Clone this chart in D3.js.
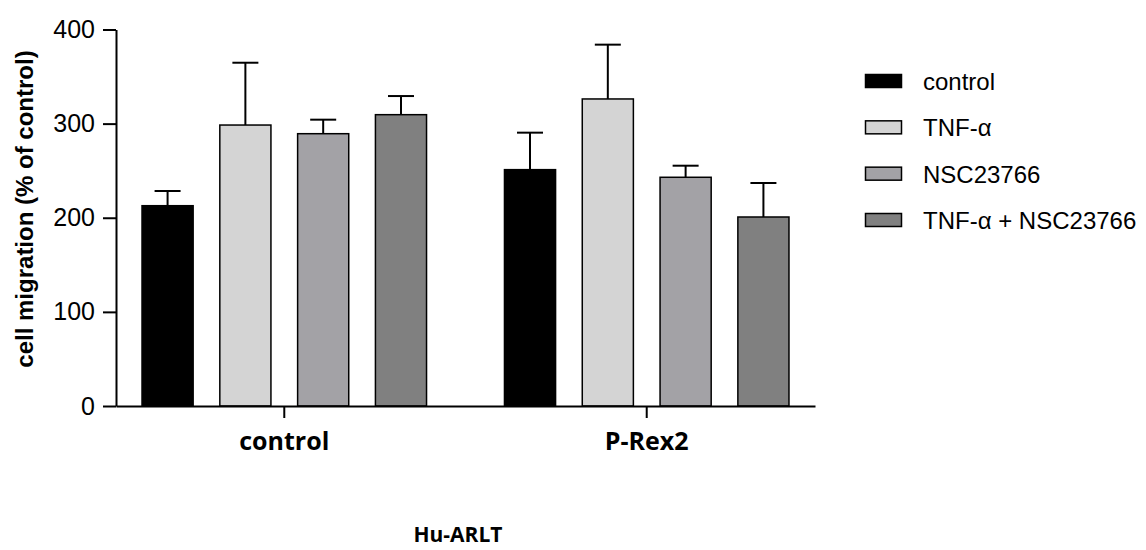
<!DOCTYPE html>
<html><head><meta charset="utf-8">
<script src="https://cdn.jsdelivr.net/npm/d3@7"></script>
<style>body{margin:0;background:#fff}svg{display:block}</style>
</head><body>
<svg id="chart" width="1146" height="550"></svg>
<script>
const groups = ["control", "P-Rex2"];
const seriesNames = ["control", "TNF-α", "NSC23766", "TNF-α + NSC23766"];
const seriesColors = ["#000000", "#d4d4d4", "#a3a2a6", "#808080"];
const meanControl = [212.8, 298.5, 289.3, 309.5];
const meanPRex2 = [251.1, 326.2, 243.0, 200.8];
const errControl = [15.6, 66.2, 14.9, 19.8];
const errPRex2 = [39.3, 57.7, 12.3, 36.1];
const yTicks = [0, 100, 200, 300, 400];
const yLabel = "cell migration (% of control)";
const xTitle = "Hu-ARLT";

const means = [meanControl, meanPRex2];
const errs = [errControl, errPRex2];

const svg = d3.select("#chart");
const y = d3.scaleLinear().domain([0, 400]).range([406, 29.5]);
const x0 = d3.scaleBand().domain(groups).range([116, 815]).paddingInner(0.215).paddingOuter(0.0718);
const x1 = d3.scaleBand().domain(seriesNames).range([0, x0.bandwidth()]).paddingInner(0.343).paddingOuter(0);
const color = d3.scaleOrdinal().domain(seriesNames).range(seriesColors);

// bars
groups.forEach((g, gi) => {
  const gg = svg.append("g").attr("transform", `translate(${x0(g)},0)`);
  seriesNames.forEach((s, si) => {
    const v = means[gi][si], e = errs[gi][si];
    const cx = x1(s) + x1.bandwidth() / 2;
    gg.append("line").attr("x1", cx).attr("x2", cx).attr("y1", y(v)).attr("y2", y(v + e))
      .attr("stroke", "#000").attr("stroke-width", 2);
    gg.append("line").attr("x1", cx - 13).attr("x2", cx + 13).attr("y1", y(v + e)).attr("y2", y(v + e))
      .attr("stroke", "#000").attr("stroke-width", 2);
    gg.append("rect").attr("x", x1(s)).attr("y", y(v)).attr("width", x1.bandwidth()).attr("height", y(0) - y(v))
      .attr("fill", color(s)).attr("stroke", "#000").attr("stroke-width", 1.5);
  });
});

// y axis
const yAxis = svg.append("g").attr("transform", "translate(116,0)")
  .call(d3.axisLeft(y).tickValues(yTicks).tickSize(13).tickPadding(8).tickSizeOuter(0));
yAxis.select(".domain").attr("stroke-width", 2);
yAxis.selectAll(".tick line").attr("stroke-width", 2);
yAxis.selectAll("text").attr("font-family", "Liberation Sans, Arial, sans-serif").attr("font-size", 25).attr("fill", "#000");

// x axis
const xAxis = svg.append("g").attr("transform", "translate(0,406)")
  .call(d3.axisBottom(x0).tickSize(12).tickPadding(14).tickSizeOuter(0));
xAxis.select(".domain").attr("stroke-width", 2);
xAxis.selectAll(".tick line").attr("stroke-width", 2);
xAxis.selectAll("text").attr("font-family", "Open Sans, sans-serif").attr("font-weight", "bold")
  .attr("font-size", 25).attr("fill", "#000");

// y label
svg.append("text").attr("transform", "translate(33,209) rotate(-90)")
  .attr("text-anchor", "middle").attr("font-family", "Liberation Sans, Arial, sans-serif")
  .attr("font-weight", "bold").attr("font-size", 24).text(yLabel);

// x title
svg.append("text").attr("x", 458).attr("y", 542).attr("text-anchor", "middle")
  .attr("font-family", "Open Sans, sans-serif").attr("font-weight", "bold").attr("font-size", 21).text(xTitle);

// legend
const legY = d3.scalePoint().domain(seriesNames).range([81, 220]);
const leg = svg.append("g");
seriesNames.forEach(s => {
  leg.append("rect").attr("x", 865.5).attr("y", legY(s) - 6.5).attr("width", 36).attr("height", 13)
    .attr("fill", color(s)).attr("stroke", "#000").attr("stroke-width", 1.5);
  leg.append("text").attr("x", 923).attr("y", legY(s) + 9).attr("font-family", "Liberation Sans, Arial, sans-serif")
    .attr("font-size", 24).attr("fill", "#000").text(s);
});
</script>
</body></html>
